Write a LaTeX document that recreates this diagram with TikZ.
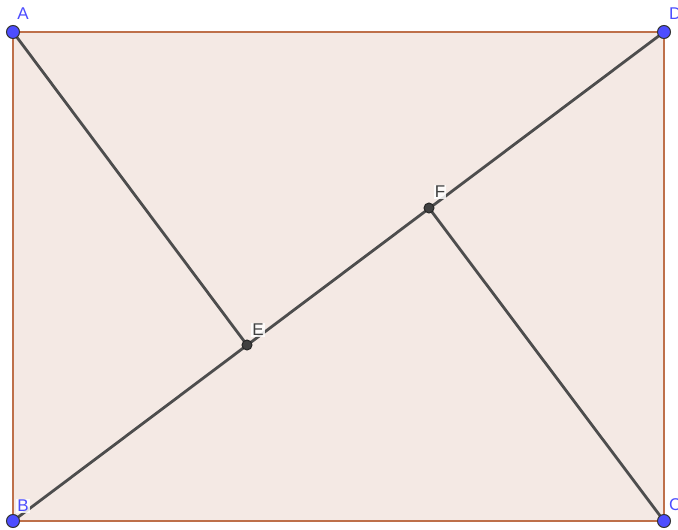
\documentclass[tikz,border=0pt]{standalone}
\usepackage{fontspec}
\setmainfont{Liberation Sans}
\definecolor{fillc}{RGB}{244,233,228}
\definecolor{edgec}{RGB}{190,112,74}
\definecolor{segc}{RGB}{77,77,77}
\definecolor{ptblue}{RGB}{77,77,255}
\definecolor{ptdark}{RGB}{64,64,64}
\definecolor{lblc}{RGB}{77,77,255}
\tikzset{
  x=1pt,y=-1pt,
  seg/.style={draw=segc,line width=2.8pt},
  bluept/.style={circle,fill=ptblue,draw=black!80,line width=1pt,inner sep=0pt,minimum size=13pt},
  darkpt/.style={circle,fill=ptdark,draw=black!85,line width=1pt,inner sep=0pt,minimum size=10pt},
  lbl/.style={text=lblc,font=\fontsize{17}{20}\selectfont,inner sep=1pt},
  dlbl/.style={text=ptdark,font=\fontsize{17}{20}\selectfont,inner sep=1pt,fill=white,fill opacity=0.85,text opacity=1},
}
\begin{document}
\begin{tikzpicture}
\useasboundingbox (0,0) rectangle (678,530);
\fill[white] (0,0) rectangle (678,530);
\coordinate (A) at (13,32);
\coordinate (D) at (664,32);
\coordinate (C) at (664,521);
\coordinate (B) at (13,521);
\coordinate (E) at (247,345);
\coordinate (F) at (429,208);
\fill[fillc] (A) -- (D) -- (C) -- (B) -- cycle;
\draw[edgec,line width=2.8pt] (A) -- (D) -- (C) -- (B) -- cycle;
\draw[seg] (A) -- (E);
\draw[seg] (B) -- (D);
\draw[seg] (F) -- (C);
\node[bluept] (pA) at (A) {};
\node[bluept] (pD) at (D) {};
\node[bluept] (pC) at (C) {};
\node[bluept] (pB) at (B) {};
\node[darkpt] (pE) at (E) {};
\node[darkpt] (pF) at (F) {};
\node[lbl] (lA) at (23,14) {A};
\node[lbl,anchor=west] (lD) at (668,14) {D};
\node[lbl,anchor=west] (lC) at (668,505) {C};
\node[lbl,fill=white,fill opacity=0.85,text opacity=1] (lB) at (23,506) {B};
\node[dlbl] (lE) at (258,330) {E};
\node[dlbl] (lF) at (440,192) {F};
\end{tikzpicture}
\end{document}
